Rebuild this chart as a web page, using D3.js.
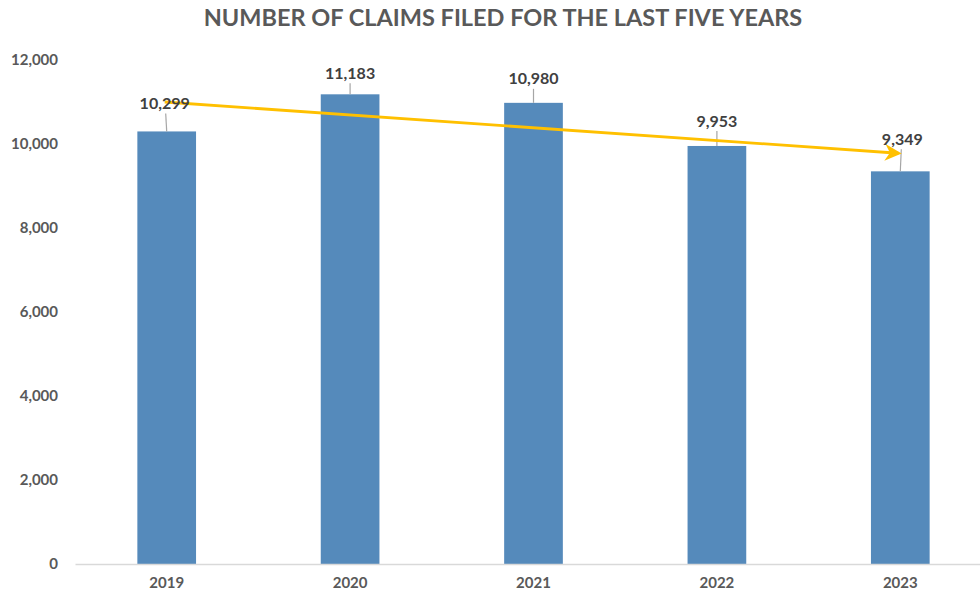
<!DOCTYPE html>
<html>
<head>
<meta charset="utf-8">
<script src="https://cdn.jsdelivr.net/npm/d3@7"></script>
<style>
    body { margin: 0; background: #ffffff; }
    text { font-family: Lato, "Open Sans", sans-serif; font-weight: bold; }
</style>
</head>
<body>
<div id="chart"></div>
<script>
const years = ["2019", "2020", "2021", "2022", "2023"];
const claims = [10299, 11183, 10980, 9953, 9349];
const yTicks = [0, 2000, 4000, 6000, 8000, 10000, 12000];
// trend arrow, start (2019) and end (2023) values
const trendValues = [11000, 9780];

// how far each data label was dragged above its bar (px)
const labelLift = [28, 21, 24, 25, 32];
const labelShiftX = [-2, 0, 0, 0, 2];

const width = 980, height = 596;
const margin = {top: 60, right: -12, bottom: 32, left: 75};

const svg = d3.select("#chart")
    .append("svg")
        .attr("width", width)
        .attr("height", height);

svg.append("rect")
    .attr("width", width)
    .attr("height", height)
    .attr("fill", "#ffffff");

const x = d3.scaleBand()
    .domain(years)
    .range([margin.left, width - margin.right])
    .paddingInner(0.68)
    .paddingOuter(0.34);

const y = d3.scaleLinear()
    .domain([0, 12000])
    .range([height - margin.bottom, margin.top]);

// title
svg.append("text")
    .attr("x", 503)
    .attr("y", 26)
    .attr("text-anchor", "middle")
    .style("font-size", "23.5px")
    .style("fill", "#595959")
    .text("NUMBER OF CLAIMS FILED FOR THE LAST FIVE YEARS");

// y axis, labels only
const yAxis = svg.append("g")
    .attr("transform", "translate(" + (margin.left - 17) + ",0)")
    .call(d3.axisLeft(y).tickValues(yTicks).tickFormat(d3.format(",")).tickSize(0).tickPadding(0));
yAxis.select(".domain").remove();
yAxis.selectAll("text")
    .style("font-size", "15px")
    .style("fill", "#595959");

// bars
svg.selectAll(".bar")
    .data(claims)
    .enter()
    .append("rect")
        .attr("class", "bar")
        .attr("x", (d, i) => x(years[i]))
        .attr("y", d => y(d))
        .attr("width", x.bandwidth())
        .attr("height", d => y(0) - y(d))
        .attr("fill", "#558abb");

// x axis
const xAxis = svg.append("g")
    .attr("transform", "translate(0," + y(0) + ")")
    .call(d3.axisBottom(x).tickSize(0).tickPadding(13));
xAxis.select(".domain")
    .attr("stroke", "#d9d9d9")
    .attr("stroke-width", 1.5);
xAxis.selectAll("text")
    .style("font-size", "15px")
    .style("fill", "#595959");

// leader lines
claims.forEach(function(d, i) {
    const cx = x(years[i]) + x.bandwidth() / 2;
    const top = y(d);
    const labelY = top - labelLift[i];
    if (top - (labelY + 10) > 4) {
        svg.append("line")
            .attr("x1", cx + labelShiftX[i] * 0.5)
            .attr("y1", labelY + 10)
            .attr("x2", cx)
            .attr("y2", top)
            .attr("stroke", "#a6a6a6")
            .attr("stroke-width", 1.2);
    }
});

// trend arrow
svg.append("defs")
    .append("marker")
        .attr("id", "arrow")
        .attr("viewBox", "0 0 10 10")
        .attr("refX", 8)
        .attr("refY", 5)
        .attr("markerWidth", 6)
        .attr("markerHeight", 6)
        .attr("markerUnits", "strokeWidth")
        .attr("orient", "auto")
    .append("path")
        .attr("d", "M0,0 L10,5 L0,10 L3,5 Z")
        .attr("fill", "#ffc000");

const trendPoints = [
    {year: years[0], value: trendValues[0]},
    {year: years[years.length - 1], value: trendValues[1]}
];

svg.append("path")
    .datum(trendPoints)
    .attr("fill", "none")
    .attr("stroke", "#ffc000")
    .attr("stroke-width", 2.8)
    .attr("marker-end", "url(#arrow)")
    .attr("d", d3.line()
        .x(function(d) { return x(d.year) + x.bandwidth() / 2 - 2 })
        .y(function(d) { return y(d.value) })
    );

// data labels
svg.selectAll(".label")
    .data(claims)
    .enter()
    .append("text")
        .attr("class", "label")
        .attr("x", (d, i) => x(years[i]) + x.bandwidth() / 2 + labelShiftX[i])
        .attr("y", (d, i) => y(d) - labelLift[i])
        .attr("dy", "0.35em")
        .attr("text-anchor", "middle")
        .style("font-size", "16px")
        .style("fill", "#404040")
        .text(d => d3.format(",")(d));
</script>
</body>
</html>
